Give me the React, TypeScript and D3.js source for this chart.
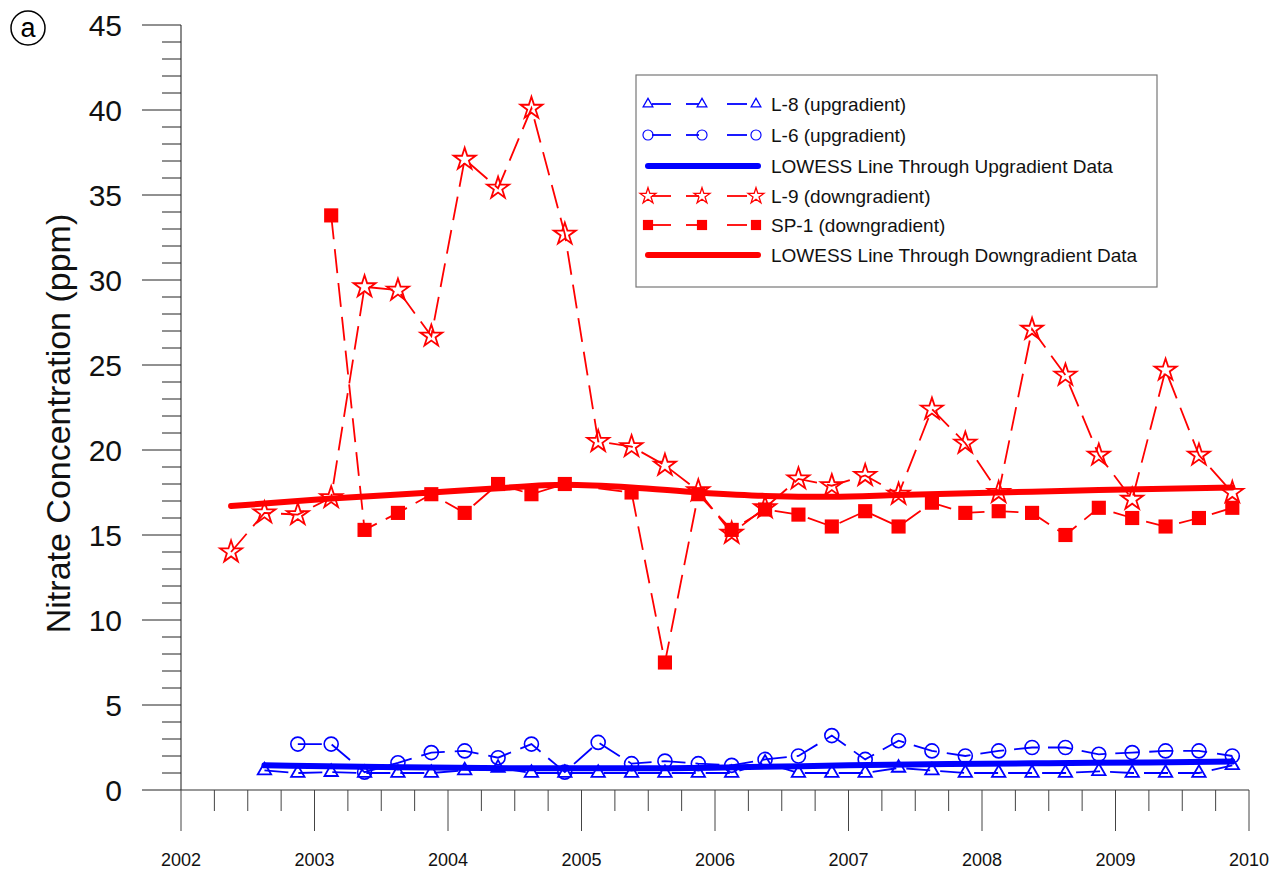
import React from 'react';
import * as d3 from 'd3';

const W = 1276;
const H = 871;
const FONT = 'Liberation Sans, Arial, Helvetica, sans-serif';

const X_TICK_YEARS = [2002, 2003, 2004, 2005, 2006, 2007, 2008, 2009, 2010];
const Y_TICKS = [0, 5, 10, 15, 20, 25, 30, 35, 40, 45];

// L-9 (downgradient) – stars
const L9_DATES = [2002.375, 2002.625, 2002.875, 2003.125, 2003.375, 2003.625, 2003.875, 2004.125, 2004.375, 2004.625, 2004.875, 2005.125, 2005.375, 2005.625, 2005.875, 2006.125, 2006.375, 2006.625, 2006.875, 2007.125, 2007.375, 2007.625, 2007.875, 2008.125, 2008.375, 2008.625, 2008.875, 2009.125, 2009.375, 2009.625, 2009.875];
const L9_VALUES = [14.0, 16.3, 16.2, 17.2, 29.6, 29.4, 26.7, 37.1, 35.4, 40.1, 32.7, 20.5, 20.2, 19.1, 17.6, 15.1, 16.6, 18.3, 17.9, 18.5, 17.4, 22.4, 20.4, 17.5, 27.1, 24.4, 19.7, 17.1, 24.7, 19.7, 17.5];

// SP-1 (downgradient) – filled squares
const SP1_DATES = [2003.125, 2003.375, 2003.625, 2003.875, 2004.125, 2004.375, 2004.625, 2004.875, 2005.375, 2005.625, 2005.875, 2006.125, 2006.375, 2006.625, 2006.875, 2007.125, 2007.375, 2007.625, 2007.875, 2008.125, 2008.375, 2008.625, 2008.875, 2009.125, 2009.375, 2009.625, 2009.875];
const SP1_VALUES = [33.8, 15.3, 16.3, 17.4, 16.3, 18.0, 17.4, 18.0, 17.5, 7.5, 17.4, 15.3, 16.5, 16.2, 15.5, 16.4, 15.5, 16.9, 16.3, 16.4, 16.3, 15.0, 16.6, 16.0, 15.5, 16.0, 16.6];

// L-6 (upgradient) – circles
const L6_DATES = [2002.875, 2003.125, 2003.375, 2003.625, 2003.875, 2004.125, 2004.375, 2004.625, 2004.875, 2005.125, 2005.375, 2005.625, 2005.875, 2006.125, 2006.375, 2006.625, 2006.875, 2007.125, 2007.375, 2007.625, 2007.875, 2008.125, 2008.375, 2008.625, 2008.875, 2009.125, 2009.375, 2009.625, 2009.875];
const L6_VALUES = [2.7, 2.7, 1.05, 1.6, 2.2, 2.3, 1.9, 2.7, 1.05, 2.8, 1.55, 1.7, 1.55, 1.45, 1.8, 2.0, 3.2, 1.8, 2.9, 2.3, 2.0, 2.3, 2.5, 2.5, 2.1, 2.2, 2.3, 2.3, 2.0];

// L-8 (upgradient) – triangles
const L8_DATES = [2002.625, 2002.875, 2003.125, 2003.375, 2003.625, 2003.875, 2004.125, 2004.375, 2004.625, 2004.875, 2005.125, 2005.375, 2005.625, 2005.875, 2006.125, 2006.375, 2006.625, 2006.875, 2007.125, 2007.375, 2007.625, 2007.875, 2008.125, 2008.375, 2008.625, 2008.875, 2009.125, 2009.375, 2009.625, 2009.875];
const L8_VALUES = [1.15, 1.0, 1.05, 1.0, 1.0, 1.0, 1.15, 1.3, 1.0, 1.0, 1.0, 1.0, 1.0, 1.0, 1.0, 1.6, 1.0, 1.0, 1.0, 1.3, 1.15, 1.0, 1.0, 1.0, 1.0, 1.1, 1.0, 1.0, 1.0, 1.45];

// LOWESS curves
const RED_LOWESS_DATES = [2002.375, 2003.125, 2003.875, 2004.375, 2004.875, 2005.375, 2005.875, 2006.375, 2006.875, 2007.375, 2008.125, 2008.875, 2009.875];
const RED_LOWESS_VALUES = [16.7, 17.15, 17.5, 17.75, 17.95, 17.8, 17.5, 17.3, 17.25, 17.35, 17.5, 17.65, 17.8];
const BLUE_LOWESS_DATES = [2002.625, 2003.5, 2004.5, 2005.5, 2006.25, 2007.0, 2007.75, 2008.5, 2009.25, 2009.875];
const BLUE_LOWESS_VALUES = [1.45, 1.35, 1.28, 1.28, 1.35, 1.45, 1.53, 1.58, 1.62, 1.67];

const BLUE = '#0000ff';
const RED = '#ff0000';
const DASH = '24 10';

type Pt = [number, number];
const zip = (a: number[], b: number[]): Pt[] => a.map((d, i) => [d, b[i]]);

const starPath = d3.symbol(d3.symbolStar, 150)() as string;
const triPath = d3.symbol(d3.symbolTriangle, 78)() as string;
const squarePath = d3.symbol(d3.symbolSquare, 200)() as string;

function Marker({ kind, cx, cy, color }: { kind: string; cx: number; cy: number; color: string }) {
  if (kind === 'circle') return <circle cx={cx} cy={cy} r={7} fill="none" stroke={color} strokeWidth={1.6} />;
  if (kind === 'tri') return <path d={triPath} transform={`translate(${cx},${cy})`} fill="none" stroke={color} strokeWidth={1.8} />;
  if (kind === 'star') return <path d={starPath} transform={`translate(${cx},${cy})`} fill="none" stroke={color} strokeWidth={1.8} />;
  return <path d={squarePath} transform={`translate(${cx},${cy})`} fill={color} stroke="none" />;
}

export default function App() {
  const x = d3.scaleLinear().domain([2002, 2010]).range([181, 1249]);
  const y = d3.scaleLinear().domain([0, 45]).range([790, 25]);

  const line = d3.line<Pt>().x((d) => x(d[0])).y((d) => y(d[1]));
  const smooth = d3.line<Pt>().x((d) => x(d[0])).y((d) => y(d[1])).curve(d3.curveMonotoneX);

  const series = [
    { name: 'L-8 (upgradient)', kind: 'tri', color: BLUE, data: zip(L8_DATES, L8_VALUES) },
    { name: 'L-6 (upgradient)', kind: 'circle', color: BLUE, data: zip(L6_DATES, L6_VALUES) },
    { name: 'LOWESS Line Through Upgradient Data', kind: 'lowess', color: BLUE, data: zip(BLUE_LOWESS_DATES, BLUE_LOWESS_VALUES) },
    { name: 'L-9 (downgradient)', kind: 'star', color: RED, data: zip(L9_DATES, L9_VALUES) },
    { name: 'SP-1 (downgradient)', kind: 'square', color: RED, data: zip(SP1_DATES, SP1_VALUES) },
    { name: 'LOWESS Line Through Downgradient Data', kind: 'lowess', color: RED, data: zip(RED_LOWESS_DATES, RED_LOWESS_VALUES) },
  ];

  const xMinor = d3.range(2002, 2010.001, 0.25).filter((v) => Math.abs(v - Math.round(v)) > 0.01);
  const yMinor = d3.range(0, 46, 1).filter((v) => v % 5 !== 0);

  const legendX = 636;
  const legendY = 75;
  const legendRowY = [104, 135, 166, 196, 225, 255];

  return (
    <svg width={W} height={H} style={{ position: 'absolute', left: 0, top: 0, background: '#fff' }} fontFamily={FONT}>
      <rect x={0} y={0} width={W} height={H} fill="#fff" />
      {/* panel label */}
      <circle cx={28} cy={28} r={17} fill="none" stroke="#000" strokeWidth={1.5} />
      <text x={28} y={37} textAnchor="middle" fontSize={27} fill="#000">a</text>

      {/* Y axis */}
      <line x1={x(2002)} x2={x(2002)} y1={y(45)} y2={y(0)} stroke="#666" strokeWidth={1.5} />
      {Y_TICKS.map((t) => (
        <g key={`yt${t}`}>
          <line x1={142} x2={x(2002)} y1={y(t)} y2={y(t)} stroke="#222" strokeWidth={1} />
          <text x={122} y={y(t)} dy="0.36em" textAnchor="end" fontSize={30} fill="#111">{t}</text>
        </g>
      ))}
      {yMinor.map((t) => (
        <line key={`ym${t}`} x1={162} x2={x(2002)} y1={y(t)} y2={y(t)} stroke="#222" strokeWidth={1} />
      ))}
      <text transform={`translate(70,${y(22.5) + 16}) rotate(-90)`} textAnchor="middle" fontSize={34} fill="#111">
        Nitrate Concentration (ppm)
      </text>

      {/* X axis */}
      <line x1={x(2002)} x2={x(2010)} y1={y(0)} y2={y(0)} stroke="#333" strokeWidth={1.2} />
      {X_TICK_YEARS.map((t) => (
        <g key={`xt${t}`}>
          <line x1={x(t)} x2={x(t)} y1={y(0)} y2={831} stroke="#444" strokeWidth={1} />
          <text x={x(t)} y={866} textAnchor="middle" fontSize={18} fill="#111">{t}</text>
        </g>
      ))}
      {xMinor.map((t) => (
        <line key={`xm${t}`} x1={x(t)} x2={x(t)} y1={y(0)} y2={811} stroke="#444" strokeWidth={1} />
      ))}

      {/* series */}
      {series.map((s) =>
        s.kind === 'lowess' ? (
          <path key={s.name} d={smooth(s.data) as string} fill="none" stroke={s.color} strokeWidth={6} strokeLinecap="round" />
        ) : (
          <g key={s.name}>
            <path d={line(s.data) as string} fill="none" stroke={s.color} strokeWidth={1.8} strokeDasharray={DASH} />
            {s.data.map((d, i) => (
              <Marker key={i} kind={s.kind} cx={x(d[0])} cy={y(d[1])} color={s.color} />
            ))}
          </g>
        )
      )}

      {/* legend */}
      <rect x={legendX} y={legendY} width={521} height={212} fill="#fff" stroke="#777" strokeWidth={1.2} />
      {series.map((s, i) => {
        const cy = legendRowY[i];
        return (
          <g key={`lg${i}`}>
            {s.kind === 'lowess' ? (
              <line x1={648} x2={758} y1={cy} y2={cy} stroke={s.color} strokeWidth={6} strokeLinecap="round" />
            ) : (
              <g>
                <line x1={652} x2={671} y1={cy} y2={cy} stroke={s.color} strokeWidth={1.8} />
                <line x1={686} x2={699} y1={cy} y2={cy} stroke={s.color} strokeWidth={1.8} />
                <line x1={727} x2={747} y1={cy} y2={cy} stroke={s.color} strokeWidth={1.8} />
                {[648, 702, 756].map((mx) => (
                  <g key={mx} transform={`translate(${mx},${cy}) scale(0.72) translate(${-mx},${-cy})`}>
                    <Marker kind={s.kind} cx={mx} cy={cy} color={s.color} />
                  </g>
                ))}
              </g>
            )}
            <text x={771} y={cy} dy="0.36em" fontSize={19} fill="#111">{s.name}</text>
          </g>
        );
      })}
    </svg>
  );
}
